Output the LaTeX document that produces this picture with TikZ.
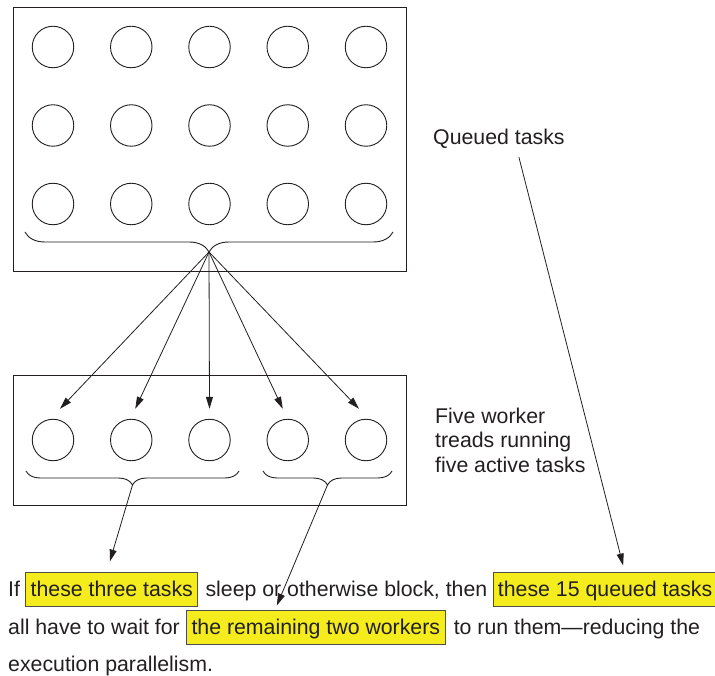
\documentclass[tikz,border=0pt]{standalone}
\usepackage{fontspec}
\setmainfont{Liberation Sans}
\usetikzlibrary{arrows.meta,positioning,calc,decorations.pathreplacing}
\definecolor{ink}{RGB}{35,31,32}
\definecolor{hlyellow}{RGB}{244,236,28}

\begin{document}
\begin{tikzpicture}[x=1pt, y=-1pt,
    panel/.style={draw=ink, line width=1pt, inner sep=0pt},
    task/.style={draw=ink, circle, line width=0.9pt, minimum size=41.5pt, inner sep=0pt},
    brc/.style={draw=ink, line width=0.9pt, decorate, decoration={brace, mirror, amplitude=#1}},
    arr/.style={-{Triangle[length=12pt, width=7pt]}, draw=ink, line width=0.8pt},
    txt/.style={font=\fontsize{21.3}{24.5}\selectfont, text=ink, inner sep=0pt, anchor=base west},
    hl/.style={txt, fill=hlyellow, draw=ink!80, line width=0.9pt, inner xsep=5pt, inner ysep=0pt, text height=24pt, text depth=10pt}
]
\useasboundingbox (0,0) rectangle (715,676);

\node[panel, anchor=north west, minimum width=393pt, minimum height=264pt] (queue) at (12.7,6.7) {};
\node[panel, anchor=north west, minimum width=393pt, minimum height=130pt] (pool) at (13,375) {};

\foreach \r in {1,2,3}
  \foreach \c in {1,...,5}
    \node[task] (q\r\c) at ({53+78.25*(\c-1)}, {47+78.5*(\r-1)}) {};
\foreach \c in {1,...,5}
  \node[task] (w\c) at ({53+78.25*(\c-1)}, 440) {};

\draw[brc=20pt] (25,232) -- (393,232);
\coordinate (qtip) at (209,252);
\draw[brc=14pt] (26,471) -- (239,471);
\coordinate (tipA) at (132.5,485);
\draw[brc=14pt] (263,471) -- (392,471);
\coordinate (tipB) at (327.5,485);

\foreach \c/\dx in {1/7,2/4,3/0,4/-5,5/-7}
  \draw[arr] (qtip) -- ($(w\c.north)+(\dx,-10)$);

\node[txt] (qlbl) at (433,145) {Queued tasks};
\node[txt, anchor=north west, align=left] (wlbl) at (435,407.5) {Five worker\\treads running\\five active tasks};

\node[txt] (l1a) at (8,596) {If};
\node[hl, right=5pt of l1a.base east, anchor=base west] (hl1) {these three tasks};
\node[txt, right=7pt of hl1.base east, anchor=base west] (l1b) {sleep or otherwise block, then};
\node[hl, right=5pt of l1b.base east, anchor=base west] (hl4) {these 15 queued tasks};
\node[txt] (l2a) at (8,634) {all have to wait for};
\node[hl, right=6pt of l2a.base east, anchor=base west] (hl3) {the remaining two workers};
\node[txt, right=8pt of hl3.base east, anchor=base west] (l2b) {to run them\textemdash reducing the};
\node[txt] (l3) at (8,671) {execution parallelism.};

\draw[arr] (tipA) -- ($(hl1.north)+(-2,-10)$);
\draw[arr] (tipB) -- ($(hl3.north)+(-39,-4)$);
\draw[arr] ($(qlbl.south)+(20,8)$) -- ($(hl4.north)+(18,-6)$);
\end{tikzpicture}
\end{document}
